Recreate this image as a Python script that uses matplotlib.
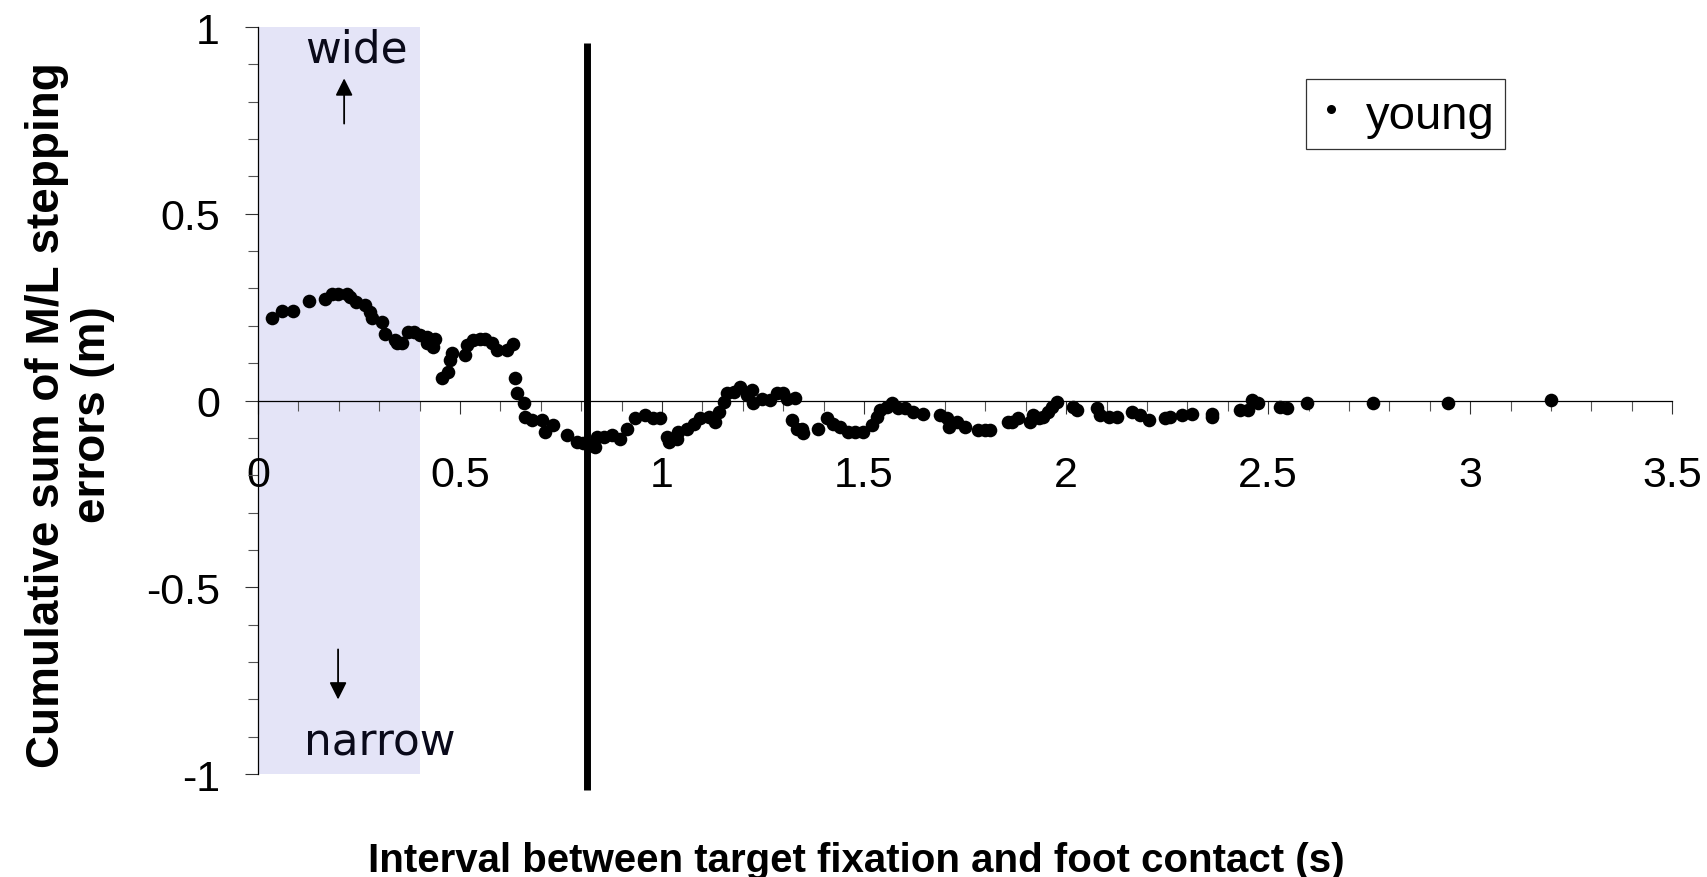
import numpy as np
import matplotlib
matplotlib.use("Agg")
import matplotlib.pyplot as plt
from matplotlib.ticker import MultipleLocator, FuncFormatter
from matplotlib.lines import Line2D

plt.rcParams['font.family'] = ['Liberation Sans', 'DejaVu Sans']

# interval between target fixation and foot contact (s)
interval_s = [0.035, 0.060, 0.086, 0.126, 0.166, 0.182, 0.199, 0.219, 0.228, 0.243,
              0.265, 0.277, 0.282, 0.306, 0.314, 0.339, 0.343, 0.356, 0.372, 0.385,
              0.401, 0.418, 0.418, 0.438, 0.434, 0.455, 0.471, 0.475, 0.479, 0.512,
              0.517, 0.533, 0.550, 0.562, 0.578, 0.591, 0.616, 0.632, 0.636, 0.640,
              0.657, 0.661, 0.677, 0.702, 0.710, 0.731, 0.764, 0.789, 0.805, 0.822,
              0.834, 0.838, 0.855, 0.875, 0.896, 0.913, 0.933, 0.958, 0.978, 0.995,
              1.012, 1.016, 1.036, 1.040, 1.061, 1.078, 1.094, 1.115, 1.131, 1.140,
              1.152, 1.160, 1.177, 1.193, 1.210, 1.222, 1.226, 1.247, 1.267, 1.284,
              1.300, 1.309, 1.329, 1.321, 1.333, 1.346, 1.350, 1.387, 1.408, 1.424,
              1.441, 1.461, 1.478, 1.498, 1.519, 1.531, 1.540, 1.556, 1.569, 1.585,
              1.601, 1.622, 1.647, 1.688, 1.705, 1.709, 1.729, 1.750, 1.783, 1.800,
              1.812, 1.857, 1.866, 1.882, 1.911, 1.919, 1.932, 1.944, 1.956, 1.965,
              1.977, 2.018, 2.026, 2.076, 2.084, 2.105, 2.125, 2.163, 2.183, 2.204,
              2.245, 2.257, 2.286, 2.311, 2.361, 2.361, 2.431, 2.451, 2.460, 2.476,
              2.530, 2.546, 2.597, 2.759, 2.946, 3.200]

# cumulative sum of M/L stepping errors (m)
cum_error_m = [0.221, 0.240, 0.239, 0.266, 0.273, 0.284, 0.285, 0.285, 0.278, 0.264,
               0.257, 0.237, 0.222, 0.211, 0.179, 0.161, 0.153, 0.153, 0.184, 0.184,
               0.175, 0.153, 0.171, 0.166, 0.144, 0.059, 0.077, 0.108, 0.126, 0.121,
               0.148, 0.161, 0.166, 0.164, 0.153, 0.135, 0.135, 0.150, 0.061, 0.019,
               -0.008, -0.044, -0.053, -0.053, -0.084, -0.066, -0.093, -0.111, -0.115, -0.120,
               -0.124, -0.097, -0.097, -0.093, -0.102, -0.075, -0.048, -0.039, -0.048, -0.048,
               -0.097, -0.111, -0.102, -0.084, -0.075, -0.062, -0.048, -0.044, -0.057, -0.030,
               -0.004, 0.019, 0.023, 0.037, 0.014, 0.028, -0.008, 0.005, 0.001, 0.019,
               0.019, 0.005, 0.007, -0.053, -0.075, -0.075, -0.088, -0.075, -0.048, -0.062,
               -0.070, -0.084, -0.084, -0.084, -0.066, -0.044, -0.026, -0.017, -0.008, -0.021,
               -0.021, -0.030, -0.035, -0.039, -0.048, -0.070, -0.057, -0.070, -0.079, -0.079,
               -0.079, -0.057, -0.057, -0.048, -0.057, -0.039, -0.048, -0.044, -0.030, -0.017,
               -0.004, -0.017, -0.026, -0.021, -0.039, -0.044, -0.044, -0.030, -0.039, -0.053,
               -0.048, -0.044, -0.039, -0.035, -0.035, -0.044, -0.026, -0.026, 0.001, -0.008,
               -0.017, -0.021, -0.006, -0.006, -0.006, 0.001]

series_name = "young"
shade_x = (0.0, 0.4)
fixation_x = 0.815
fixation_span = (-1.043, 0.957)

fig = plt.figure(figsize=(17.08, 8.78), dpi=100)
ax = fig.add_axes([0.1511, 0.1173, 0.8279, 0.8508])
ax.set_xlim(0, 3.5)
ax.set_ylim(-1, 1)

# shaded window
ax.axvspan(shade_x[0], shade_x[1], ymin=0, ymax=1, color='#e4e4f7', lw=0, zorder=0)

ax.plot(interval_s, cum_error_m, 'o', color='black', markersize=9.8,
        markeredgewidth=0, zorder=3)

ax.plot([fixation_x, fixation_x], fixation_span, color='black', lw=5,
        solid_capstyle='butt', clip_on=False, zorder=4)

# axes: left spine at x=0, bottom spine through y=0
for s in ['top', 'right']:
    ax.spines[s].set_visible(False)
ax.spines['bottom'].set_position(('data', 0))
ax.spines['left'].set_linewidth(0.9)
ax.spines['bottom'].set_linewidth(0.9)

ax.xaxis.set_major_locator(MultipleLocator(0.5))
ax.xaxis.set_minor_locator(MultipleLocator(0.1))
ax.yaxis.set_major_locator(MultipleLocator(0.5))
ax.yaxis.set_minor_locator(MultipleLocator(0.1))
fmt = FuncFormatter(lambda v, p: ('%g' % v).replace('\u2212', '-'))
ax.xaxis.set_major_formatter(fmt)
ax.yaxis.set_major_formatter(fmt)

ax.tick_params(axis='both', which='major', direction='out', length=9.5, width=0.8,
               labelsize=31, color='#333333')
ax.tick_params(axis='both', which='minor', direction='out', length=7, width=0.8,
               color='#555555')
ax.tick_params(axis='x', which='major', pad=30)
ax.tick_params(axis='y', which='major', pad=18)

# direction hints
ax.annotate('', xy=(0.213, 0.87), xytext=(0.213, 0.734),
            arrowprops=dict(arrowstyle='-|>', color='black', lw=1.3, mutation_scale=26))
ax.annotate('', xy=(0.198, -0.808), xytext=(0.198, -0.659),
            arrowprops=dict(arrowstyle='-|>', color='black', lw=1.3, mutation_scale=26))
ax.text(0.243, 0.942, 'wide', fontsize=31.5, family='DejaVu Sans', color='#0a0a1a',
        ha='center', va='center')
ax.text(0.302, -0.913, 'narrow', fontsize=31.5, family='DejaVu Sans', color='#0a0a1a',
        ha='center', va='center')

handle = Line2D([], [], marker='o', linestyle='none', color='black',
                markersize=6.5, markeredgewidth=0)
leg = ax.legend([handle], [series_name], loc='upper left',
                bbox_to_anchor=(1306 / 1708, 1 - 80 / 878),
                bbox_transform=fig.transFigure, fontsize=34, frameon=True,
                fancybox=False, borderaxespad=0, borderpad=0.22,
                handletextpad=0.4, handlelength=0.64, handleheight=1.1)
leg.get_frame().set_edgecolor('black')
leg.get_frame().set_linewidth(0.9)

fig.text(70 / 1708, 1 - 415 / 878, 'Cumulative sum of M/L stepping\nerrors (m)',
         rotation=90, ha='center', va='center', fontsize=33, fontweight='bold',
         linespacing=1.08)
fig.text(856 / 1708, 1 - 861 / 878,
         'Interval between target fixation and foot contact (s)',
         ha='center', va='center', fontsize=29, fontweight='bold')

fig.savefig('out.png', dpi=100)
